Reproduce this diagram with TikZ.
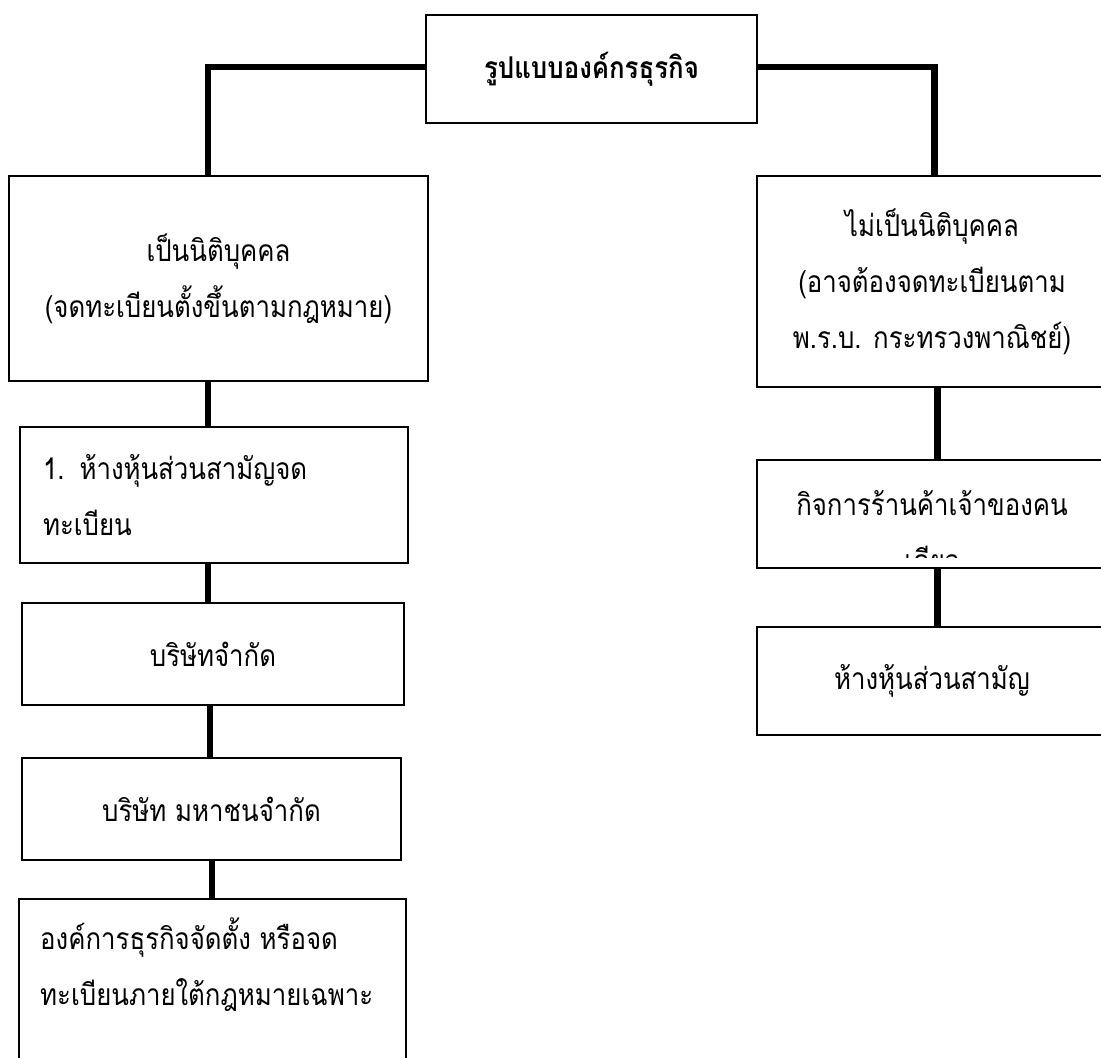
\documentclass[tikz,border=0pt]{standalone}
\usepackage{fontspec}
\newfontfamily\thaifont[Script=Thai, FakeStretch=0.86]{Loma}
\tikzset{
  box/.style={draw, line width=2.5pt, inner sep=0pt, align=center,
    font=\thaifont\fontsize{30}{56}\selectfont},
  conn/.style={line width=6.5pt},
  txt/.style={inner sep=0pt, font=\thaifont\fontsize{30}{56}\selectfont},
}
\begin{document}
\begin{tikzpicture}[x=1pt,y=-1pt]
\useasboundingbox (0,0) rectangle (1101,1058);
\fill[white] (0,0) rectangle (1101,1058);
\clip (0,0) rectangle (1101,1058);

% top
\node[box, minimum width=331pt, minimum height=108pt,
  font=\thaifont\bfseries\fontsize{30}{36}\selectfont] (top) at (591.5,69) {รูปแบบองค์กรธุรกิจ};

% left column
\node[box, minimum width=419pt, minimum height=205pt] (lb1) at (218.5,278.5)
  {เป็นนิติบุคคล\\(จดทะเบียนตั้งขึ้นตามกฎหมาย)};
\node[box, minimum width=388pt, minimum height=136pt, text width=342pt, align=left] (lb2) at (214,495)
  {1. ห้างหุ้นส่วนสามัญจด\\ทะเบียน};
\node[box, minimum width=382pt, minimum height=102pt] (lb3) at (213,654) {บริษัทจำกัด};
\node[box, minimum width=379pt, minimum height=102pt] (lb4) at (211.5,809) {บริษัท มหาชนจำกัด};
\node[box, minimum width=387pt, minimum height=181pt] (lb5) at (212.5,989.5) {};
\node[txt, anchor=west, align=left] (lb5t) at (40,964.5)
  {องค์การธุรกิจจัดตั้ง หรือจด\\ทะเบียนภายใต้กฎหมายเฉพาะ};

% right column
\node[box, minimum width=350pt, minimum height=211pt] (rb1) at (932,281.5)
  {ไม่เป็นนิติบุคคล\\(อาจต้องจดทะเบียนตาม\\พ.ร.บ. กระทรวงพาณิชย์)};
\node[box, minimum width=350pt, minimum height=108pt] (rb2) at (932,514) {};
\begin{scope}
  \clip (757,460) rectangle (1101,557);
  \node[txt, align=center] (rb2t) at (932,531) {กิจการร้านค้าเจ้าของคน\\เดียว};
\end{scope}
\node[box, minimum width=350pt, minimum height=108pt] (rb3) at (932,681) {ห้างหุ้นส่วนสามัญ};

% connector helper coordinates
\coordinate (jl) at (208,67);
\coordinate (jr) at (934.5,67);
\coordinate (ca) at (208,0);
\coordinate (cb) at (210,0);
\coordinate (cc) at (212,0);
\coordinate (cr) at (937.5,0);

% connectors
\draw[conn] ([yshift=2pt]top.west) -- (jl) -- (lb1.north -| jl);
\draw[conn] ([yshift=2pt]top.east) -- (jr) -- (rb1.north -| jr);
\draw[conn] (lb1.south -| ca) -- (lb2.north -| ca);
\draw[conn] (lb2.south -| ca) -- (lb3.north -| ca);
\draw[conn] (lb3.south -| cb) -- (lb4.north -| cb);
\draw[conn] (lb4.south -| cc) -- (lb5.north -| cc);
\draw[conn] (rb1.south -| cr) -- (rb2.north -| cr);
\draw[conn] (rb2.south -| cr) -- (rb3.north -| cr);
\end{tikzpicture}
\end{document}
